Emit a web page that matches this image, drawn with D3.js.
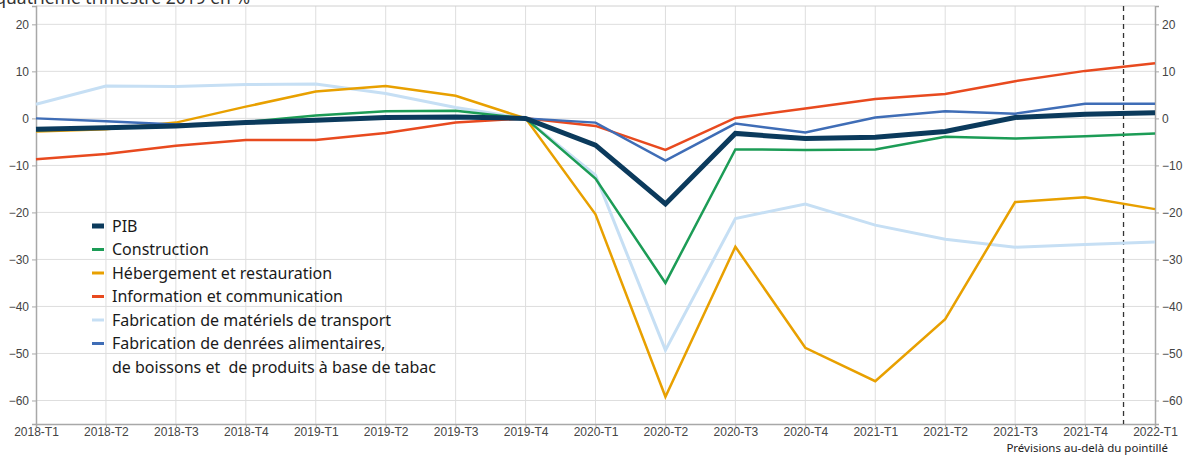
<!DOCTYPE html>
<html>
<head>
<meta charset="utf-8">
<script src="https://cdn.jsdelivr.net/npm/d3@7"></script>
<style>
    body { margin: 0; background: #fff; }
    svg { display: block; font-family: "Noto Sans", sans-serif; }
</style>
</head>
<body>
<div id="chart"></div>
<script>
const quarters = [
    "2018-T1", "2018-T2", "2018-T3", "2018-T4",
    "2019-T1", "2019-T2", "2019-T3", "2019-T4",
    "2020-T1", "2020-T2", "2020-T3", "2020-T4",
    "2021-T1", "2021-T2", "2021-T3", "2021-T4", "2022-T1",
]

const pib = [-2.3, -2.0, -1.6, -0.9, -0.4, 0.2, 0.3, 0, -5.7, -18.2, -3.2, -4.3, -4.0, -2.8, 0.2, 0.9, 1.2]
const construction = [-2.5, -2.1, -1.6, -0.8, 0.6, 1.5, 1.6, 0, -12.8, -35.0, -6.6, -6.7, -6.6, -3.9, -4.3, -3.8, -3.2]
const hebergement = [-2.8, -2.3, -0.9, 2.5, 5.7, 6.9, 4.8, 0, -20.4, -59.2, -27.3, -48.8, -55.9, -42.7, -17.8, -16.8, -19.3]
const information = [-8.7, -7.6, -5.8, -4.6, -4.6, -3.1, -0.9, 0, -1.6, -6.7, 0.1, 2.1, 4.1, 5.2, 7.9, 10.1, 11.7]
const transport = [3.0, 6.9, 6.8, 7.2, 7.3, 5.3, 2.3, 0, -12.1, -49.3, -21.3, -18.2, -22.7, -25.7, -27.4, -26.8, -26.3]
const denrees = [0.0, -0.6, -1.3, -1.0, -0.3, 0.2, 0.3, 0, -0.9, -9.0, -1.1, -3.0, 0.2, 1.5, 1.0, 3.1, 3.1]

const yTicks = [20, 10, 0, -10, -20, -30, -40, -50, -60]
const forecastFrom = 15.55 // position du pointillé, en trimestres

const series = [
    {name: ["Fabrication de matériels de transport"], values: transport, color: "#c6dff4", width: 3},
    {name: ["Hébergement et restauration"], values: hebergement, color: "#e8a000", width: 2.5},
    {name: ["Construction"], values: construction, color: "#1c9c56", width: 2.5},
    {name: ["Information et communication"], values: information, color: "#e84a1f", width: 2.5},
    {name: ["Fabrication de denrées alimentaires,", "de boissons et  de produits à base de tabac"], values: denrees, color: "#3f6db6", width: 2.5},
    {name: ["PIB"], values: pib, color: "#0b3a5c", width: 5},
]
const legendOrder = [5, 2, 1, 3, 0, 4]

const width = 1186
const height = 459
const margin = {top: 6, right: 31, bottom: 35, left: 36}

const svg = d3.select("#chart")
    .append("svg")
    .attr("width", width)
    .attr("height", height)

const x = d3.scaleLinear()
    .domain([0, quarters.length - 1])
    .range([margin.left, width - margin.right])

const y = d3.scaleLinear()
    .domain([-65, 23.9])
    .range([height - margin.bottom, margin.top])

// grille
const grid = svg.append("g").attr("stroke", "#dedede").attr("stroke-width", 1)
grid.selectAll(".v")
    .data(d3.range(1, quarters.length - 1))
    .join("line")
    .attr("x1", (d) => x(d)).attr("x2", (d) => x(d))
    .attr("y1", margin.top).attr("y2", height - margin.bottom)
grid.selectAll(".h")
    .data(yTicks)
    .join("line")
    .attr("x1", margin.left).attr("x2", width - margin.right)
    .attr("y1", (d) => y(d)).attr("y2", (d) => y(d))

// cadre du haut
svg.append("line")
    .attr("x1", margin.left).attr("x2", width - margin.right)
    .attr("y1", margin.top).attr("y2", margin.top)
    .attr("stroke", "#d0d0d0")

const fmt = (d) => (d < 0 ? "\u2212" + Math.abs(d) : String(d))

const styleAxis = (g) => {
    g.select(".domain").attr("stroke", "#a8a8a8").attr("stroke-width", 1.5)
    g.selectAll(".tick line").attr("stroke", "#a8a8a8")
    g.selectAll(".tick text").attr("fill", "#444").style("font-size", "12px")
}

svg.append("g")
    .attr("transform", `translate(${margin.left},0)`)
    .call(d3.axisLeft(y).tickValues(yTicks).tickFormat(fmt).tickSize(4).tickPadding(3))
    .call(styleAxis)

svg.append("g")
    .attr("transform", `translate(${width - margin.right},0)`)
    .call(d3.axisRight(y).tickValues(yTicks).tickFormat(fmt).tickSize(4).tickPadding(3))
    .call(styleAxis)

svg.append("g")
    .attr("transform", `translate(0,${height - margin.bottom})`)
    .call(d3.axisBottom(x).tickValues(d3.range(quarters.length))
        .tickFormat((i) => quarters[i]).tickSize(3).tickPadding(0))
    .call(styleAxis)

// pointillé des prévisions
svg.append("line")
    .attr("x1", x(forecastFrom)).attr("x2", x(forecastFrom))
    .attr("y1", margin.top).attr("y2", height - margin.bottom)
    .attr("stroke", "#333")
    .attr("stroke-width", 1.3)
    .attr("stroke-dasharray", "5,4")

// courbes
const line = d3.line()
    .x((d, i) => x(i))
    .y((d) => y(d))

svg.append("g")
    .selectAll("path")
    .data(series)
    .join("path")
    .attr("d", (d) => line(d.values))
    .attr("fill", "none")
    .attr("stroke", (d) => d.color)
    .attr("stroke-width", (d) => d.width)
    .attr("stroke-linejoin", "miter")

// légende
const legend = svg.append("g").attr("transform", "translate(92,226)")
let row = 0
for (let idx of legendOrder) {
    const s = series[idx]
    const g = legend.append("g").attr("transform", `translate(0,${row * 23.5})`)
    g.append("line")
        .attr("x1", 0).attr("x2", 12)
        .attr("y1", 0).attr("y2", 0)
        .attr("stroke", s.color)
        .attr("stroke-width", idx === 5 ? 5 : 3)
    s.name.forEach((t, k) => {
        g.append("text")
            .attr("x", 20)
            .attr("y", k * 23.5)
            .attr("dy", "0.35em")
            .attr("fill", "#1a1a1a")
            .style("font-size", "16px")
            .style("white-space", "pre")
            .text(t)
    })
    row += s.name.length
}

// titre (coupé en haut)
svg.append("text")
    .attr("x", 250)
    .attr("y", 4)
    .attr("text-anchor", "end")
    .attr("fill", "#333")
    .style("font-size", "17.5px")
    .text("quatrième trimestre 2019 en %")

svg.append("text")
    .attr("x", 1168)
    .attr("y", 452)
    .attr("text-anchor", "end")
    .attr("fill", "#222")
    .style("font-size", "11.5px")
    .text("Prévisions au-delà du pointillé")
</script>
</body>
</html>
